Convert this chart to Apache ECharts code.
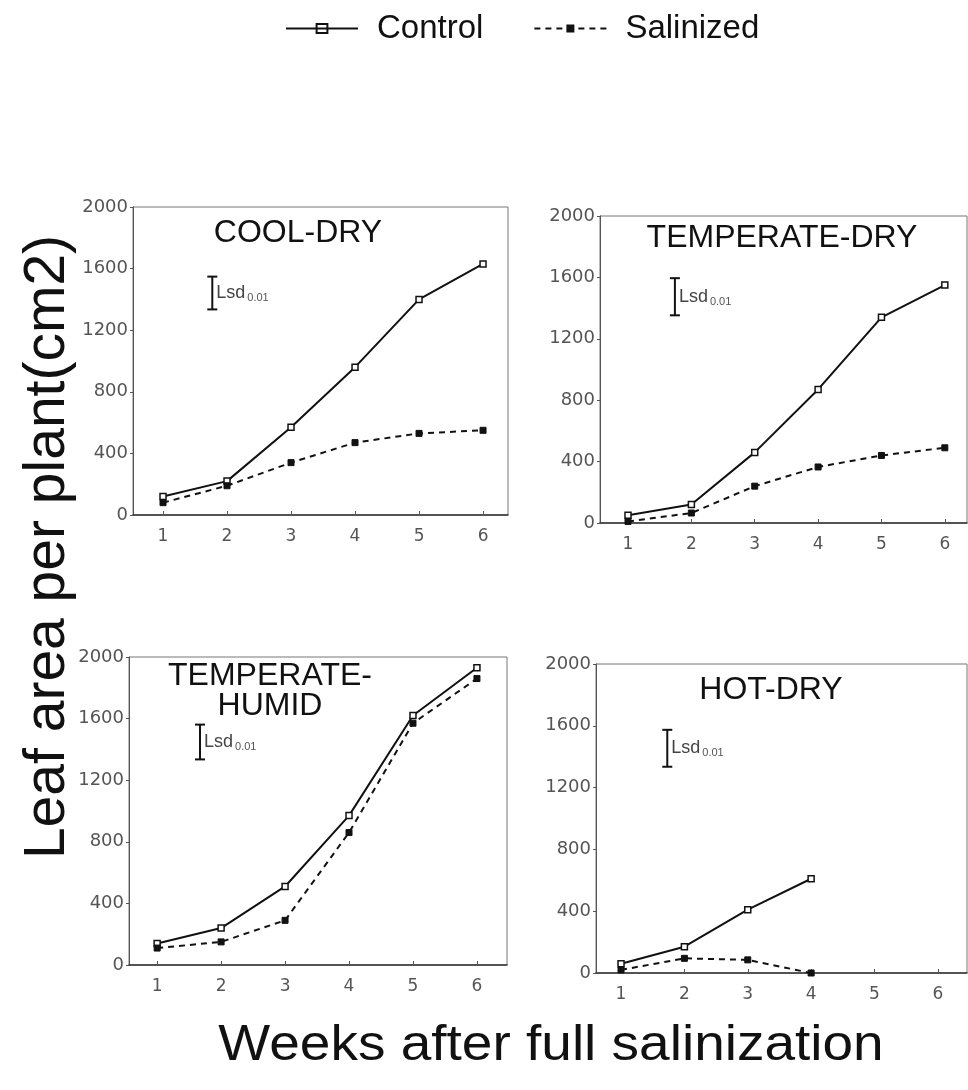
<!DOCTYPE html>
<html><head><meta charset="utf-8">
<script src="https://cdn.jsdelivr.net/npm/echarts@6/dist/echarts.min.js"></script>
<style>html,body{margin:0;padding:0;background:#fff}#c{width:968px;height:1090px}</style>
</head><body><div id="c"></div>
<script>
// ---- data ----
const weeks = [1, 2, 3, 4, 5, 6];
const xTickValues = [1, 2, 3, 4, 5, 6];
const yMin = 0, yMax = 2000, yStep = 400;
const seriesNames = ['Control', 'Salinized'];
const panelNames = ['COOL-DRY', 'TEMPERATE-DRY', 'TEMPERATE-\nHUMID', 'HOT-DRY'];
const coolDryControl = [120, 220, 570, 960, 1400, 1630];
const coolDrySalinized = [80, 190, 340, 470, 530, 550];
const tempDryControl = [50, 120, 460, 870, 1340, 1550];
const tempDrySalinized = [10, 65, 240, 365, 440, 490];
const tempHumidControl = [140, 240, 510, 970, 1620, 1930];
const tempHumidSalinized = [110, 150, 290, 860, 1570, 1860];
const hotDryControl = [60, 170, 410, 610];
const hotDrySalinized = [20, 95, 85, 0];
const lsdWeek = [1.77, 1.74, 1.67, 1.73];
const lsdLow = [1335, 1353, 1335, 1335];
const lsdHigh = [1548, 1595, 1561, 1574];
const yAxisTitle = 'Leaf area per plant(cm2)';
const xAxisTitle = 'Weeks after full salinization';

// ---- layout / style ----
const FONT = 'Liberation Sans, Arial, sans-serif';
const TICKFONT = 'DejaVu Sans, sans-serif';
const grids = [
  {left: 133, top: 207, width: 375, height: 308},
  {left: 600, top: 216, width: 367, height: 307},
  {left: 129, top: 657, width: 378, height: 308},
  {left: 596, top: 664, width: 371, height: 309}
];
const xRanges = [[0.531, 6.39], [0.558, 6.35], [0.56, 6.47], [0.605, 6.46]];
const titlePos = [[298, 233], [782, 238], [270, 691], [771, 690]];
const panels = [
  [coolDryControl, coolDrySalinized],
  [tempDryControl, tempDrySalinized],
  [tempHumidControl, tempHumidSalinized],
  [hotDryControl, hotDrySalinized]
];

const pairs = arr => arr.map((v, i) => [weeks[i], v]);

const series = [];
panels.forEach((p, k) => {
  series.push({
    name: seriesNames[0], type: 'line', xAxisIndex: k, yAxisIndex: k,
    data: pairs(p[0]), symbol: 'rect', symbolSize: 6, showSymbol: true,
    lineStyle: {color: '#111', width: 2, type: 'solid'},
    itemStyle: {color: '#fff', borderColor: '#111', borderWidth: 1.5},
    emphasis: {disabled: true}, animation: false, z: 3
  });
  series.push({
    name: seriesNames[1], type: 'line', xAxisIndex: k, yAxisIndex: k,
    data: pairs(p[1]), symbol: 'rect', symbolSize: 6, showSymbol: true,
    lineStyle: {color: '#111', width: 2, type: [6, 5]},
    itemStyle: {color: '#111', borderColor: '#111'},
    emphasis: {disabled: true}, animation: false, z: 3
  });
  series.push({
    type: 'custom', xAxisIndex: k, yAxisIndex: k, animation: false, silent: true,
    data: [[lsdWeek[k], lsdLow[k], lsdHigh[k]]],
    renderItem: function (params, api) {
      const top = api.coord([api.value(0), api.value(2)]);
      const bot = api.coord([api.value(0), api.value(1)]);
      const cap = 5;
      const st = {stroke: '#111', lineWidth: 2};
      return {type: 'group', children: [
        {type: 'line', shape: {x1: top[0], y1: top[1], x2: bot[0], y2: bot[1]}, style: st},
        {type: 'line', shape: {x1: top[0] - cap, y1: top[1], x2: top[0] + cap, y2: top[1]}, style: st},
        {type: 'line', shape: {x1: bot[0] - cap, y1: bot[1], x2: bot[0] + cap, y2: bot[1]}, style: st},
        {type: 'text', x: top[0] + 4, y: (top[1] + bot[1]) / 2,
         style: {text: '{a|Lsd}{b|0.01}', verticalAlign: 'middle', align: 'left',
           rich: {a: {fontSize: 18, fontFamily: FONT, fill: '#444'},
                  b: {fontSize: 11, fontFamily: FONT, fill: '#555', padding: [10, 0, 0, 2]}}}}
      ]};
    }
  });
});

const option = {
  backgroundColor: '#fff',
  animation: false,
  legend: {
    data: [
      {name: 'Control', icon: 'path://M0,5L40,5 M17,2.5h6v5h-6z'},
      {name: 'Salinized'}
    ],
    left: 280, top: 7, itemWidth: 72, itemHeight: 10, itemGap: 50,
    textStyle: {fontSize: 33, fontFamily: FONT, color: '#111', padding: [0, 0, 0, 14]},
    selectedMode: false
  },
  grid: grids.map(g => Object.assign({show: true, borderColor: '#777', borderWidth: 1, backgroundColor: 'transparent'}, g)),
  xAxis: grids.map((g, k) => ({
    type: 'value', gridIndex: k, min: xRanges[k][0], max: xRanges[k][1],
    splitLine: {show: false},
    axisLine: {show: true, onZero: false, lineStyle: {color: '#333', width: 1.5}},
    axisTick: {show: true, inside: true, length: 4, customValues: xTickValues, lineStyle: {color: '#555'}},
    axisLabel: {customValues: xTickValues, margin: 13, fontSize: 17, fontFamily: TICKFONT, color: '#555'}
  })),
  yAxis: grids.map((g, k) => ({
    type: 'value', gridIndex: k, min: yMin, max: yMax, interval: yStep,
    splitLine: {show: false},
    axisLine: {show: true, lineStyle: {color: '#555', width: 1}},
    axisTick: {show: true, length: 3, lineStyle: {color: '#555'}},
    axisLabel: {margin: 5, fontSize: 18, fontFamily: TICKFONT, color: '#555', formatter: v => String(v)}
  })),
  series: series,
  graphic: panelNames.map((t, k) => ({
    type: 'text', x: titlePos[k][0], y: titlePos[k][1], silent: true,
    style: {text: t, fontSize: 32, fontFamily: FONT, fill: '#111', align: 'center', verticalAlign: 'middle', lineHeight: 30}
  })).concat([
    {type: 'text', x: 48, y: 547, rotation: Math.PI / 2, silent: true,
     style: {text: yAxisTitle, fontSize: 57, fontFamily: FONT, fill: '#111', align: 'center', verticalAlign: 'middle'}},
    {type: 'text', x: 551, y: 1046, scaleX: 1.1, silent: true,
     style: {text: xAxisTitle, fontSize: 50, fontFamily: FONT, fill: '#111', align: 'center', verticalAlign: 'middle'}}
  ])
};

const chart = echarts.init(document.getElementById('c'), null, {renderer: 'canvas'});
chart.setOption(option);
</script>
</body></html>
